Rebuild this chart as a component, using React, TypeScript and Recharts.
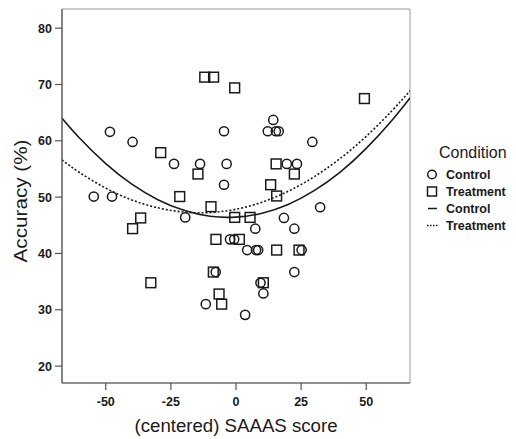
import React from 'react';
import { ComposedChart, XAxis, YAxis, Scatter, Line, ReferenceArea, Legend } from 'recharts';

const controlX = [-54.6, -47.6, -48.4, -39.7, -23.8, -13.8, -3.6, -4.6, -4.6, -19.5, -2.3, -0.7, -7.8, -11.6, 3.5, 4.3, 7.7, 8.5, 25.2, 7.4, 18.4, 22.4, 32.3, 22.4, 9.4, 10.5, 14.3, 12.2, 15.3, 16.4, 29.3, 19.5, 23.4];
const controlY = [50.1, 50.1, 61.6, 59.8, 55.9, 55.9, 55.9, 61.7, 52.2, 46.4, 42.5, 42.5, 36.7, 31.0, 29.1, 40.6, 40.6, 40.6, 40.6, 44.4, 46.3, 44.4, 48.2, 36.7, 34.8, 32.9, 63.7, 61.7, 61.7, 61.7, 59.8, 55.9, 55.9];

const treatmentX = [-28.9, -14.6, -21.6, -12.0, -8.6, -0.5, -9.6, 49.3, 15.4, 22.4, 13.3, 15.6, -36.6, -39.7, -7.7, 1.3, -0.5, 5.4, -32.7, -8.7, -6.5, -5.5, 15.6, 24.2, 10.5];
const treatmentY = [57.9, 54.1, 50.1, 71.3, 71.3, 69.4, 48.3, 67.5, 55.9, 54.1, 52.2, 50.2, 46.3, 44.4, 42.5, 42.5, 46.4, 46.4, 34.8, 36.7, 32.8, 31.0, 40.6, 40.6, 34.8];

const fitX = [-66.8, -60, -50, -40, -30, -20, -10, 0, 10, 20, 30, 40, 50, 60, 66.8];
const controlFitY = [64.0, 60.45, 55.95, 52.3, 49.55, 47.65, 46.6, 46.45, 47.15, 48.7, 51.15, 54.45, 58.65, 63.7, 67.6];
const treatmentFitY = [56.6, 54.35, 51.6, 49.5, 48.1, 47.35, 47.26, 47.85, 49.1, 51.03, 53.62, 56.87, 60.8, 65.4, 68.9];

const xTicks = [-50, -25, 0, 25, 50];
const yTicks = [20, 30, 40, 50, 60, 70, 80];
const xDomain = [-66.8, 66.8];
const yDomain = [17, 83.4];

const legendTitle = 'Condition';
const legendItems = [
  { label: 'Control', kind: 'circle' },
  { label: 'Treatment', kind: 'square' },
  { label: 'Control', kind: 'solid' },
  { label: 'Treatment', kind: 'dotted' },
];

const controlData = controlX.map((x, i) => ({ x, y: controlY[i] }));
const treatmentData = treatmentX.map((x, i) => ({ x, y: treatmentY[i] }));
const controlFit = fitX.map((x, i) => ({ x, y: controlFitY[i] }));
const treatmentFit = fitX.map((x, i) => ({ x, y: treatmentFitY[i] }));

const FONT = '"Liberation Sans", Arial, sans-serif';
const INK = '#1a1a1a';

const CircleShape = (props: any) => (
  <circle cx={props.cx} cy={props.cy} r={4.6} fill="none" stroke={INK} strokeWidth={1.5} />
);
const SquareShape = (props: any) => (
  <rect x={props.cx - 4.9} y={props.cy - 4.9} width={9.8} height={9.8} fill="none" stroke={INK} strokeWidth={1.5} />
);

const LegendContent = () => (
  <svg width={96} height={100} style={{ display: 'block', fontFamily: FONT }}>
    <text x={19} y={20} fontSize={16} fill={INK}>{legendTitle}</text>
    {legendItems.map((it, i) => {
      const base = 41 + i * 17;
      const cy = base - 4.5;
      let icon: any = null;
      if (it.kind === 'circle') icon = <circle cx={12} cy={cy} r={4.3} fill="none" stroke={INK} strokeWidth={1.5} />;
      else if (it.kind === 'square') icon = <rect x={7.5} y={cy - 4.5} width={9} height={9} fill="none" stroke={INK} strokeWidth={1.5} />;
      else if (it.kind === 'solid') icon = <line x1={8} x2={17} y1={cy} y2={cy} stroke={INK} strokeWidth={1.5} />;
      else icon = <line x1={7} x2={18} y1={cy} y2={cy} stroke={INK} strokeWidth={1.5} strokeDasharray="1.5 1.5" />;
      return (
        <g key={i}>
          {icon}
          <text x={26} y={base} fontSize={12.5} fontWeight="bold" fill={INK}>{it.label}</text>
        </g>
      );
    })}
  </svg>
);

const XLabel = (props: any) => {
  const vb = props.viewBox || { x: 62, y: 383, width: 348 };
  return (
    <text x={vb.x + vb.width / 2} y={vb.y + 49} textAnchor="middle" fontSize={18} fill={INK}
      fontFamily={FONT} textLength={203} lengthAdjust="spacingAndGlyphs">(centered) SAAAS score</text>
  );
};

const YLabel = (props: any) => {
  const vb = props.viewBox || { x: 0, y: 9, height: 374 };
  const cx = 26.5;
  const cy = vb.y + vb.height / 2 + 5;
  return (
    <text x={cx} y={cy} transform={`rotate(-90 ${cx} ${cy})`} textAnchor="middle" fontSize={18} fill={INK}
      fontFamily={FONT} textLength={123} lengthAdjust="spacingAndGlyphs">Accuracy (%)</text>
  );
};

const tickStyle = { fontSize: 12.5, fontWeight: 'bold', fill: INK, fontFamily: FONT } as any;

export default function App() {
  return (
    <div style={{ position: 'absolute', left: 0, top: 0, background: '#fff' }}>
      <ComposedChart width={516} height={439} margin={{ top: 9, right: 106, bottom: 0, left: 0 }}>
        <XAxis
          dataKey="x"
          type="number"
          domain={xDomain}
          ticks={xTicks}
          allowDataOverflow
          height={56}
          tickSize={7}
          tickMargin={7}
          tick={tickStyle}
          axisLine={{ stroke: '#555', strokeWidth: 1.2 }}
          tickLine={{ stroke: '#555', strokeWidth: 1.2 }}
          label={<XLabel />}
        />
        <YAxis
          dataKey="y"
          type="number"
          domain={yDomain}
          ticks={yTicks}
          allowDataOverflow
          width={62}
          tickSize={7}
          tickMargin={3}
          tick={tickStyle}
          axisLine={{ stroke: '#555', strokeWidth: 1.2 }}
          tickLine={{ stroke: '#555', strokeWidth: 1.2 }}
          label={<YLabel />}
        />
        <ReferenceArea x1={xDomain[0]} x2={xDomain[1]} y1={yDomain[0]} y2={yDomain[1]} fill="none" stroke="#999" strokeWidth={1} ifOverflow="visible" />
        <Line data={controlFit} dataKey="y" type="natural" stroke={INK} strokeWidth={1.6} dot={false} isAnimationActive={false} legendType="none" />
        <Line data={treatmentFit} dataKey="y" type="natural" stroke={INK} strokeWidth={1.6} strokeDasharray="2 2" dot={false} isAnimationActive={false} legendType="none" />
        <Scatter data={controlData} dataKey="y" shape={<CircleShape />} isAnimationActive={false} />
        <Scatter data={treatmentData} dataKey="y" shape={<SquareShape />} isAnimationActive={false} />
        <Legend
          layout="horizontal"
          verticalAlign="middle"
          align="center"
          content={<LegendContent />}
          wrapperStyle={{ position: 'absolute', left: 420, top: 138, width: 96, height: 100 }}
        />
      </ComposedChart>
    </div>
  );
}
